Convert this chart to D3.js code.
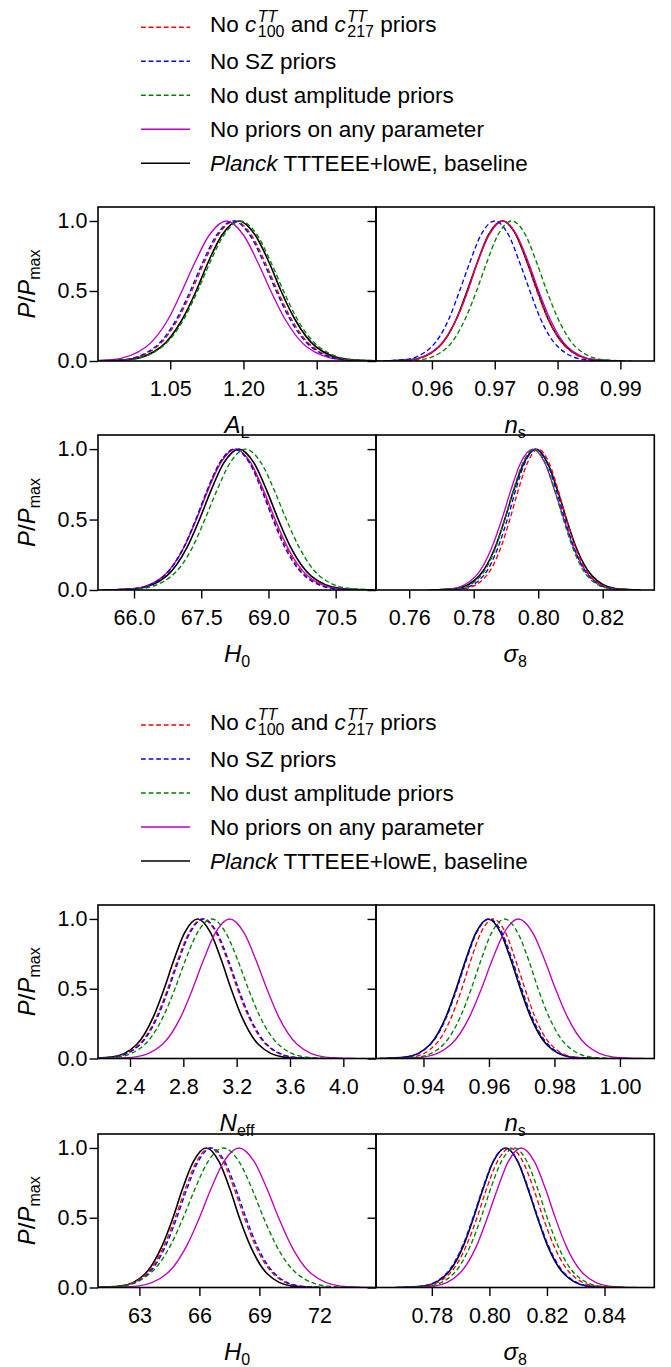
<!DOCTYPE html>
<html><head><meta charset="utf-8">
<script src="https://cdn.jsdelivr.net/npm/d3@7"></script>
<style>
body{margin:0;background:#fff}
svg text{font-family:"Liberation Sans",Arial,sans-serif;fill:#000;white-space:pre}
</style>
</head><body><svg id="chart" width="671" height="1367"></svg>
<script>
// ---------- data ----------
const seriesNames = ["No c100/c217 priors", "No SZ priors", "No dust amplitude priors", "No priors on any parameter", "Planck TTTEEE+lowE, baseline"];
const seriesColors = ["#ff0000", "#0000ff", "#008000", "#bf00bf", "#000000"];
const seriesDashed = [true, true, true, false, false];
// P/Pmax level of every sampled point along a curve
const pdfLevels = [0, 0.01, 0.1, 0.3, 0.5, 0.7, 0.9, 1, 0.9, 0.7, 0.5, 0.3, 0.1, 0.01, 0];

// parameter values read at those levels, order: red, blue, green, magenta, black
const xsAL = [
  [0.884, 0.956, 1.022, 1.066, 1.094, 1.119, 1.148, 1.182, 1.216, 1.245, 1.270, 1.298, 1.342, 1.408, 1.480],
  [0.881, 0.953, 1.019, 1.063, 1.091, 1.116, 1.145, 1.179, 1.213, 1.242, 1.267, 1.295, 1.339, 1.405, 1.477],
  [0.894, 0.966, 1.033, 1.078, 1.106, 1.131, 1.160, 1.194, 1.228, 1.257, 1.282, 1.310, 1.355, 1.422, 1.494],
  [0.857, 0.931, 1.000, 1.046, 1.074, 1.100, 1.130, 1.165, 1.200, 1.230, 1.256, 1.285, 1.330, 1.399, 1.473],
  [0.894, 0.965, 1.031, 1.075, 1.103, 1.127, 1.156, 1.190, 1.224, 1.253, 1.277, 1.305, 1.349, 1.415, 1.486]
];
const xsNsTop = [
  [0.9524, 0.9569, 0.9611, 0.9639, 0.9657, 0.9672, 0.9690, 0.9712, 0.9734, 0.9752, 0.9767, 0.9785, 0.9813, 0.9855, 0.9900],
  [0.9511, 0.9557, 0.9599, 0.9627, 0.9644, 0.9660, 0.9678, 0.9700, 0.9722, 0.9740, 0.9756, 0.9773, 0.9801, 0.9843, 0.9889],
  [0.9536, 0.9582, 0.9625, 0.9653, 0.9671, 0.9687, 0.9705, 0.9727, 0.9749, 0.9767, 0.9783, 0.9801, 0.9829, 0.9872, 0.9918],
  [0.9521, 0.9567, 0.9610, 0.9639, 0.9657, 0.9672, 0.9691, 0.9713, 0.9735, 0.9754, 0.9770, 0.9788, 0.9816, 0.9859, 0.9905],
  [0.9523, 0.9568, 0.9611, 0.9639, 0.9656, 0.9672, 0.9690, 0.9712, 0.9734, 0.9752, 0.9768, 0.9785, 0.9814, 0.9856, 0.9901]
];
const xsH0Top = [
  [65.29, 66.00, 66.66, 67.10, 67.38, 67.63, 67.91, 68.25, 68.59, 68.88, 69.12, 69.40, 69.84, 70.50, 71.21],
  [65.32, 66.02, 66.67, 67.11, 67.38, 67.62, 67.91, 68.24, 68.58, 68.86, 69.10, 69.37, 69.81, 70.46, 71.16],
  [65.41, 66.15, 66.84, 67.30, 67.58, 67.84, 68.14, 68.49, 68.84, 69.14, 69.40, 69.69, 70.14, 70.83, 71.57],
  [65.27, 65.99, 66.66, 67.11, 67.39, 67.64, 67.93, 68.27, 68.61, 68.90, 69.15, 69.43, 69.88, 70.55, 71.27],
  [65.34, 66.06, 66.73, 67.18, 67.46, 67.71, 68.00, 68.34, 68.68, 68.97, 69.22, 69.50, 69.95, 70.62, 71.34]
];
const xsS8Top = [
  [0.7700, 0.7772, 0.7839, 0.7884, 0.7912, 0.7937, 0.7966, 0.8000, 0.8034, 0.8063, 0.8088, 0.8116, 0.8161, 0.8228, 0.8300],
  [0.7689, 0.7762, 0.7830, 0.7875, 0.7904, 0.7929, 0.7958, 0.7993, 0.8028, 0.8057, 0.8083, 0.8111, 0.8156, 0.8224, 0.8297],
  [0.7679, 0.7753, 0.7822, 0.7868, 0.7896, 0.7922, 0.7952, 0.7987, 0.8022, 0.8052, 0.8078, 0.8107, 0.8152, 0.8221, 0.8295],
  [0.7655, 0.7734, 0.7807, 0.7856, 0.7887, 0.7914, 0.7945, 0.7983, 0.8021, 0.8052, 0.8080, 0.8110, 0.8159, 0.8232, 0.8311],
  [0.7666, 0.7745, 0.7817, 0.7866, 0.7896, 0.7923, 0.7955, 0.7992, 0.8029, 0.8061, 0.8088, 0.8118, 0.8167, 0.8239, 0.8318]
];
const xsNeff = [
  [2.056, 2.270, 2.468, 2.600, 2.683, 2.756, 2.842, 2.944, 3.046, 3.132, 3.205, 3.289, 3.420, 3.618, 3.832],
  [2.064, 2.278, 2.476, 2.608, 2.691, 2.764, 2.850, 2.952, 3.054, 3.140, 3.213, 3.297, 3.428, 3.626, 3.840],
  [2.076, 2.302, 2.510, 2.649, 2.737, 2.814, 2.905, 3.012, 3.119, 3.210, 3.287, 3.375, 3.514, 3.722, 3.948],
  [2.204, 2.432, 2.642, 2.782, 2.870, 2.949, 3.040, 3.148, 3.256, 3.347, 3.426, 3.514, 3.655, 3.864, 4.092],
  [2.055, 2.261, 2.450, 2.576, 2.656, 2.727, 2.809, 2.907, 3.005, 3.087, 3.158, 3.238, 3.364, 3.554, 3.759]
];
const xsNsBot = [
  [0.9285, 0.9364, 0.9437, 0.9486, 0.9517, 0.9544, 0.9575, 0.9613, 0.9651, 0.9682, 0.9710, 0.9740, 0.9789, 0.9862, 0.9941],
  [0.9265, 0.9346, 0.9421, 0.9471, 0.9502, 0.9530, 0.9562, 0.9601, 0.9640, 0.9672, 0.9700, 0.9731, 0.9781, 0.9856, 0.9937],
  [0.9300, 0.9384, 0.9461, 0.9513, 0.9546, 0.9575, 0.9608, 0.9648, 0.9688, 0.9722, 0.9750, 0.9783, 0.9835, 0.9912, 0.9996],
  [0.9306, 0.9399, 0.9484, 0.9541, 0.9577, 0.9609, 0.9646, 0.9690, 0.9734, 0.9771, 0.9803, 0.9839, 0.9896, 0.9981, 1.0074],
  [0.9266, 0.9346, 0.9420, 0.9469, 0.9500, 0.9528, 0.9560, 0.9598, 0.9636, 0.9668, 0.9696, 0.9727, 0.9776, 0.9850, 0.9930]
];
const xsH0Bot = [
  [60.64, 62.06, 63.37, 64.24, 64.79, 65.28, 65.85, 66.52, 67.20, 67.76, 68.25, 68.80, 69.68, 70.98, 72.40],
  [60.72, 62.14, 63.45, 64.32, 64.87, 65.36, 65.93, 66.60, 67.28, 67.84, 68.33, 68.88, 69.76, 71.06, 72.48],
  [60.36, 62.01, 63.53, 64.55, 65.19, 65.76, 66.42, 67.20, 67.99, 68.65, 69.21, 69.85, 70.87, 72.39, 74.04],
  [61.26, 62.88, 64.38, 65.37, 66.00, 66.56, 67.21, 67.98, 68.75, 69.40, 69.96, 70.59, 71.59, 73.08, 74.70],
  [60.68, 62.05, 63.30, 64.14, 64.68, 65.14, 65.69, 66.34, 66.99, 67.54, 68.00, 68.54, 69.38, 70.64, 72.00]
];
const xsS8Bot = [
  [0.7680, 0.7775, 0.7862, 0.7920, 0.7957, 0.7989, 0.8027, 0.8072, 0.8117, 0.8155, 0.8187, 0.8224, 0.8282, 0.8369, 0.8464],
  [0.7672, 0.7765, 0.7850, 0.7907, 0.7943, 0.7975, 0.8012, 0.8056, 0.8100, 0.8137, 0.8169, 0.8205, 0.8262, 0.8347, 0.8440],
  [0.7694, 0.7789, 0.7876, 0.7934, 0.7971, 0.8003, 0.8041, 0.8086, 0.8131, 0.8169, 0.8201, 0.8238, 0.8296, 0.8383, 0.8478],
  [0.7711, 0.7808, 0.7896, 0.7956, 0.7993, 0.8027, 0.8065, 0.8111, 0.8157, 0.8196, 0.8229, 0.8266, 0.8326, 0.8415, 0.8511],
  [0.7680, 0.7771, 0.7854, 0.7910, 0.7945, 0.7977, 0.8013, 0.8056, 0.8099, 0.8135, 0.8167, 0.8202, 0.8258, 0.8341, 0.8432]
];

const ticksAL = [1.05, 1.20, 1.35];
const ticksNsTop = [0.96, 0.97, 0.98, 0.99];
const ticksH0Top = [66.0, 67.5, 69.0, 70.5];
const ticksS8Top = [0.76, 0.78, 0.80, 0.82];
const ticksNeff = [2.4, 2.8, 3.2, 3.6, 4.0];
const ticksNsBot = [0.94, 0.96, 0.98, 1.00];
const ticksH0Bot = [63, 66, 69, 72];
const ticksS8Bot = [0.78, 0.80, 0.82, 0.84];
const ticksY = [0.0, 0.5, 1.0];

// ---------- layout ----------
const svg = d3.select("#chart");
const colX = [[98, 376], [376, 654.3]];
const rowY = [[207, 361], [435, 590], [905, 1058.5], [1134, 1287.5]];
const TICK_FS = 21.5, LEG_FS = 22.5, LAB_FS = 24, SUB_FS = 16;

const panels = [
  {row: 0, col: 0, xs: xsAL, dom: [0.902, 1.4715], ticks: ticksAL, fmt: ".2f", lab: ["A", "L"]},
  {row: 0, col: 1, xs: xsNsTop, dom: [0.9511, 0.9954], ticks: ticksNsTop, fmt: ".2f", lab: ["n", "s"]},
  {row: 1, col: 0, xs: xsH0Top, dom: [65.196, 71.4], ticks: ticksH0Top, fmt: ".1f", lab: ["H", "0"]},
  {row: 1, col: 1, xs: xsS8Top, dom: [0.7497, 0.836], ticks: ticksS8Top, fmt: ".2f", lab: ["σ", "8"]},
  {row: 2, col: 0, xs: xsNeff, dom: [2.16, 4.245], ticks: ticksNeff, fmt: ".1f", lab: ["N", "eff"]},
  {row: 2, col: 1, xs: xsNsBot, dom: [0.9255, 1.0105], ticks: ticksNsBot, fmt: ".2f", lab: ["n", "s"]},
  {row: 3, col: 0, xs: xsH0Bot, dom: [60.93, 74.83], ticks: ticksH0Bot, fmt: "d", lab: ["H", "0"]},
  {row: 3, col: 1, xs: xsS8Bot, dom: [0.7606, 0.8573], ticks: ticksS8Bot, fmt: ".2f", lab: ["σ", "8"]}
];
const drawOrder = [4, 3, 0, 1, 2];
const DASH = "4.8,2.8";

panels.forEach((p, pi) => {
  const [x0, x1] = colX[p.col], [y0, y1] = rowY[p.row];
  const x = d3.scaleLinear().domain(p.dom).range([x0, x1]);
  const y = d3.scaleLinear().domain([0, 1.1]).range([y1, y0]);
  const g = svg.append("g");
  g.append("clipPath").attr("id", "clip" + pi).append("rect")
    .attr("x", x0).attr("y", y0).attr("width", x1 - x0).attr("height", y1 - y0);
  const line = d3.line().x(d => x(d[0])).y(d => y(d[1])).curve(d3.curveMonotoneX);
  const cg = g.append("g").attr("clip-path", `url(#clip${pi})`);
  drawOrder.forEach(si => {
    const pts = p.xs[si].map((v, j) => [v, pdfLevels[j]]);
    cg.append("path").attr("d", line(pts)).attr("fill", "none")
      .attr("stroke", seriesColors[si])
      .attr("stroke-width", si === 4 ? 1.6 : 1.35)
      .attr("stroke-dasharray", seriesDashed[si] ? DASH : null);
  });
  // axes
  const ax = g.append("g").attr("transform", `translate(0,${y1})`)
    .call(d3.axisBottom(x).tickValues(p.ticks).tickFormat(d3.format(p.fmt)).tickSize(8.5).tickPadding(11.5));
  const ay = g.append("g").attr("transform", `translate(${x0},0)`)
    .call(d3.axisLeft(y).tickValues(ticksY).tickFormat(p.col === 0 ? d3.format(".1f") : () => "").tickSize(8.5).tickPadding(2));
  [ax, ay].forEach(a => {
    a.select(".domain").remove();
    a.selectAll(".tick line").attr("stroke", "#000").attr("stroke-width", 1.4);
    a.selectAll(".tick text").attr("font-size", TICK_FS).attr("fill", "#000")
      .style("font-family", '"Liberation Sans",Arial,sans-serif');
  });
  g.append("rect").attr("x", x0).attr("y", y0).attr("width", x1 - x0).attr("height", y1 - y0)
    .attr("fill", "none").attr("stroke", "#000").attr("stroke-width", 1.6);
  // x label
  const t = g.append("text").attr("x", (x0 + x1) / 2).attr("y", y1 + 72).attr("text-anchor", "middle")
    .attr("font-size", LAB_FS);
  t.append("tspan").attr("font-style", "italic").text(p.lab[0]);
  t.append("tspan").attr("font-size", SUB_FS).attr("dy", 5).text(p.lab[1]);
  // y label
  if (p.col === 0) {
    const yl = g.append("text").attr("transform", `translate(35,${(y0 + y1) / 2}) rotate(-90)`)
      .attr("text-anchor", "middle").attr("font-size", LAB_FS);
    yl.append("tspan").attr("font-style", "italic").text("P");
    yl.append("tspan").text("/");
    yl.append("tspan").attr("font-style", "italic").text("P");
    yl.append("tspan").attr("font-size", SUB_FS).attr("dy", 5).text("max");
  }
});

// ---------- legends ----------
const legendPieces = [
  [{t: "No "}, {t: "c", it: 1}, {stack: [{t: "TT", it: 1, dy: -10}, {t: "100", dy: 5}]}, {t: " and "},
   {t: "c", it: 1}, {stack: [{t: "TT", it: 1, dy: -10}, {t: "217", dy: 5}]}, {t: " priors"}],
  [{t: "No SZ priors"}],
  [{t: "No dust amplitude priors"}],
  [{t: "No priors on any parameter"}],
  [{t: "Planck", it: 1}, {t: " TTTEEE+lowE, baseline"}]
];
function drawPieces(g, pieces, x, base) {
  let cx = x;
  pieces.forEach(pc => {
    if (pc.stack) {
      cx += 1.5;
      let w = 0;
      pc.stack.forEach(s => {
        const n = g.append("text").attr("x", cx).attr("y", base + s.dy).attr("font-size", SUB_FS)
          .attr("font-style", s.it ? "italic" : null).text(s.t);
        w = Math.max(w, n.node().getComputedTextLength());
      });
      cx += w;
    } else {
      const n = g.append("text").attr("x", cx).attr("y", base).attr("font-size", LEG_FS)
        .attr("font-style", pc.it ? "italic" : null).text(pc.t);
      cx += n.node().getComputedTextLength();
    }
  });
}
[27.3, 725].forEach(ly => {
  const g = svg.append("g");
  seriesNames.forEach((name, i) => {
    const yy = ly + i * 34;
    g.append("line").attr("x1", 141).attr("x2", 190).attr("y1", yy).attr("y2", yy)
      .attr("stroke", seriesColors[i]).attr("stroke-width", 1.5)
      .attr("stroke-dasharray", seriesDashed[i] ? DASH : null);
    drawPieces(g, legendPieces[i], 210, yy + (i === 0 ? 4.5 : 8));
  });
});
</script>
</body></html>
